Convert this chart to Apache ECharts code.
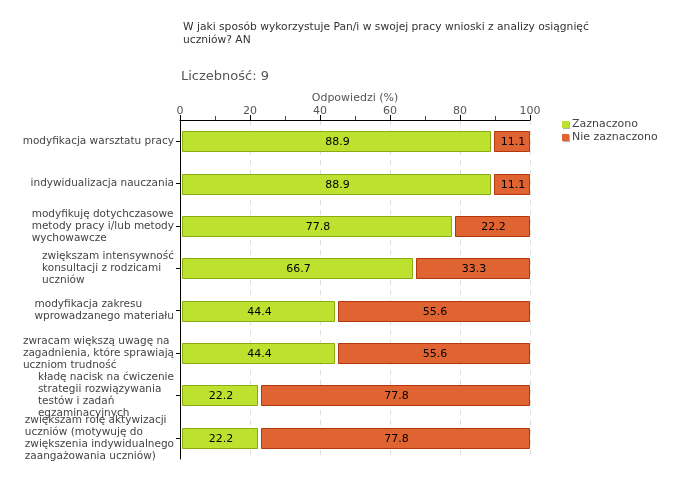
<!DOCTYPE html>
<html><head><meta charset="utf-8">
<script src="https://cdn.jsdelivr.net/npm/echarts@6/dist/echarts.min.js"></script>
<style>html,body{margin:0;padding:0;background:#fff}#c{width:680px;height:480px}</style>
</head><body><div id="c"></div>
<script>
var categories = [
  "modyfikacja warsztatu pracy",
  "indywidualizacja nauczania",
  "modyfikuję dotychczasowe\nmetody pracy i/lub metody\nwychowawcze",
  "zwiększam intensywność\nkonsultacji z rodzicami\nuczniów",
  "modyfikacja zakresu\nwprowadzanego materiału",
  "zwracam większą uwagę na\nzagadnienia, które sprawiają\nuczniom trudność",
  "kładę nacisk na ćwiczenie\nstrategii rozwiązywania\ntestów i zadań\negzaminacyjnych",
  "zwiększam rolę aktywizacji\nuczniów (motywuję do\nzwiększenia indywidualnego\nzaangażowania uczniów)"
];
var seriesNames = ["Zaznaczono", "Nie zaznaczono"];
var zaznaczono = [88.9, 88.9, 77.8, 66.7, 44.4, 44.4, 22.2, 22.2];
var nieZaznaczono = [11.1, 11.1, 22.2, 33.3, 55.6, 55.6, 77.8, 77.8];
var xTicks = [0, 20, 40, 60, 80, 100];

var FONT = "DejaVu Sans";
var fills = ["#bde12f", "#e06431"];
var strokes = ["#8aab11", "#b2370e"];

function buildData(k) {
  var out = [];
  for (var i = 0; i < categories.length; i++) {
    var start = k === 0 ? 0 : zaznaczono[i];
    var v = k === 0 ? zaznaczono[i] : nieZaznaczono[i];
    out.push([i, start, start + v, v]);
  }
  return out;
}

function makeRender(k) {
  var inset = k === 0 ? 2 : 3;
  return function (params, api) {
    var ci = api.value(0), s = api.value(1), e = api.value(2), v = api.value(3);
    var p0 = api.coord([s, ci]);
    var p1 = api.coord([e, ci]);
    var h = 20;
    var x0 = Math.round(p0[0]) + inset + 0.5;
    var x1 = Math.round(p1[0]) - 0.5;
    var y0 = Math.round(p0[1] - h / 2) + 0.5;
    return {
      type: 'group',
      children: [
        { type: 'rect', shape: { x: x0, y: y0, width: x1 - x0, height: h },
          style: { fill: fills[k], stroke: strokes[k], lineWidth: 1 } },
        { type: 'text', style: { text: v.toFixed(1), x: (x0 + x1) / 2 + 1, y: y0 + h / 2 + 1,
          align: 'center', verticalAlign: 'middle', fill: '#000', font: '11px "' + FONT + '"' } }
      ]
    };
  };
}

var chart = echarts.init(document.getElementById('c'), null, { renderer: 'canvas' });
chart.setOption({
  animation: false,
  backgroundColor: '#fff',
  textStyle: { fontFamily: FONT },
  graphic: [
    { type: 'text', left: 183, top: 21, style: {
      text: "W jaki sposób wykorzystuje Pan/i w swojej pracy wnioski z analizy osiągnięć\nuczniów? AN",
      font: '10.7px "' + FONT + '"', fill: '#333', lineHeight: 12.5 } },
    { type: 'text', left: 181, top: 70, style: {
      text: "Liczebność: 9", font: '13px "' + FONT + '"', fill: '#555' } }
  ],
  legend: {
    orient: 'vertical', left: 557, top: 114, itemWidth: 7, itemHeight: 7, itemGap: 2,
    icon: 'rect', data: seriesNames,
    itemStyle: { shadowColor: 'rgba(0,0,0,0.3)', shadowOffsetX: 1, shadowOffsetY: 1, shadowBlur: 0 },
    textStyle: { fontSize: 11, color: '#444', fontFamily: FONT, padding: [0, 0, 0, -2] }
  },
  grid: { left: 180, top: 120, width: 350, height: 339 },
  xAxis: {
    type: 'value', position: 'top', min: xTicks[0], max: xTicks[xTicks.length - 1], interval: 20,
    name: 'Odpowiedzi (%)', nameLocation: 'middle', nameGap: 16, nameMoveOverlap: false,
    nameTextStyle: { fontSize: 11, color: '#555', fontFamily: FONT },
    axisLine: { show: true, lineStyle: { color: '#000', width: 1 } },
    axisTick: { show: true, length: 5, lineStyle: { color: '#000' } },
    minorTick: { show: true, splitNumber: 2, length: 4, lineStyle: { color: '#ff0000', width: 1 } },
    axisLabel: { fontSize: 11, color: '#555', margin: 3, fontFamily: FONT },
    splitLine: { show: true, lineStyle: { color: '#dddddd', type: [5, 5] } }
  },
  yAxis: {
    type: 'category', inverse: true, data: categories,
    axisLine: { show: true, lineStyle: { color: '#000', width: 1 } },
    axisTick: { show: true, alignWithLabel: true, length: 4, lineStyle: { color: '#000' } },
    axisLabel: {
      margin: 6, interval: 0,
      formatter: function (val) {
        return val.split('\n').map(function (l) { return '{l|' + l + '}'; }).join('\n');
      },
      rich: { l: { align: 'left', fontSize: 10.5, lineHeight: 12, color: '#444', fontFamily: FONT } }
    },
    splitLine: { show: false }
  },
  series: [
    { name: seriesNames[0], type: 'custom', renderItem: makeRender(0), data: buildData(0),
      encode: { x: [1, 2], y: 0 }, itemStyle: { color: fills[0] } },
    { name: seriesNames[1], type: 'custom', renderItem: makeRender(1), data: buildData(1),
      encode: { x: [1, 2], y: 0 }, itemStyle: { color: fills[1] } }
  ]
});
</script></body></html>
